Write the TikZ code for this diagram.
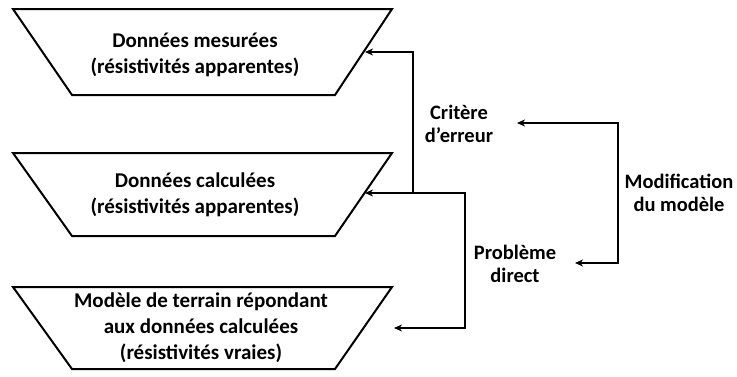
\documentclass[tikz,border=0pt]{standalone}
\usepackage{fontspec}
\setmainfont{Carlito}
\usetikzlibrary{arrows.meta}
\begin{document}
\begin{tikzpicture}[x=1pt,y=-1pt,
  trap/.style={line width=2pt,line join=miter},
  conn/.style={line width=1.5pt,-{Stealth[length=8pt,width=7pt,inset=2.5pt]}},
  txt/.style={font=\bfseries\fontsize{21}{26}\selectfont,align=center,inner sep=0pt},
  lbl/.style={font=\bfseries\fontsize{20.5}{23}\selectfont,align=center,inner sep=0pt}]
\useasboundingbox (0,0) rectangle (737,376);
% trapezoids
\draw[trap] (13,9) -- (392,9) -- (335,95) -- (72,95) -- cycle;
\draw[trap] (13,153) -- (392,153) -- (335,236) -- (72,236) -- cycle;
\draw[trap] (13,287) -- (392,287) -- (335,369) -- (72,369) -- cycle;
% texts
\node[txt] (mes) at (195,55) {Données mesurées\\(résistivités apparentes)};
\node[txt] (cal) at (195,195) {Données calculées\\(résistivités apparentes)};
\node[txt] (mod) at (201,328) {Modèle de terrain répondant\\aux données calculées\\(résistivités vraies)};
\node[lbl] (crit) at (459,124) {Critère\\d’erreur};
\node[lbl] (modif) at (679,193) {Modification\\du modèle};
\node[lbl] (prob) at (515,264) {Problème\\direct};
% connector coordinates
\coordinate (t1) at (365,52);
\coordinate (t2) at (365,193);
\coordinate (t3) at (394,328);
\coordinate (j) at (413,193);
\coordinate (a1) at (517,123);
\coordinate (a2) at (575,263);
% connectors
\draw[conn] (j) -- (413,52) -- (t1);
\draw[conn] (465,193) -- (t2);
\draw[conn] (j) -- (465,193) -- (465,328) -- (t3);
\draw[conn] (618,193) -- (618,123) -- (a1);
\draw[conn] (618,193) -- (618,263) -- (a2);
\end{tikzpicture}
\end{document}
